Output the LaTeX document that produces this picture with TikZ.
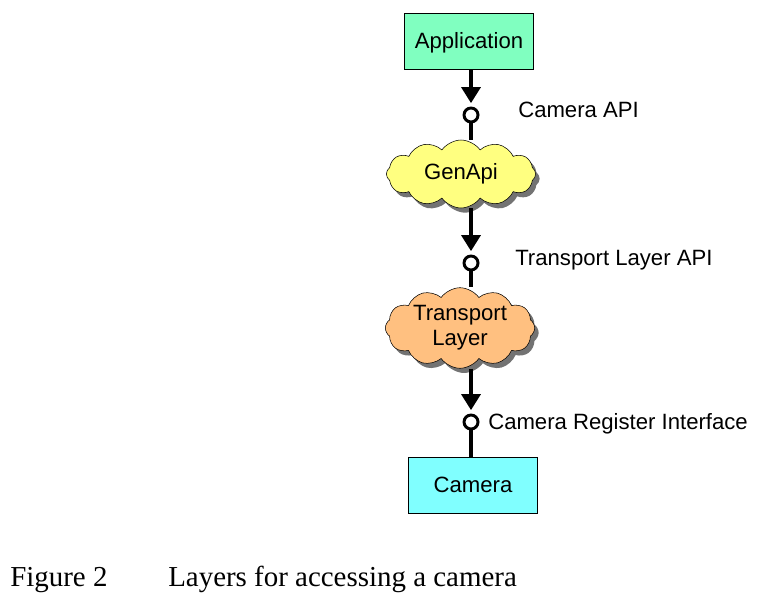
\documentclass[tikz,border=0pt]{standalone}
\usepackage{fontspec}
\setmainfont{Liberation Sans}
\newfontfamily\captionserif{Liberation Serif}
\usetikzlibrary{shapes.symbols,shadows,arrows.meta,positioning}
\definecolor{appgreen}{HTML}{80FFC0}
\definecolor{camcyan}{HTML}{80FFFF}
\definecolor{apiyellow}{HTML}{FFFF80}
\definecolor{tlorange}{HTML}{FFC080}
\tikzset{
  layerbox/.style={draw,thin,minimum width=97pt,minimum height=42pt,font=\fontsize{16.6}{19}\selectfont},
  layercloud/.style={cloud,cloud puffs=12,cloud puff arc=110,aspect=2.2,draw,thin,inner sep=0pt,
    minimum width=112pt,minimum height=51pt,align=center,font=\fontsize{16.6}{19}\selectfont,
    drop shadow={shadow xshift=3pt,shadow yshift=-3.5pt,fill=black!55,opacity=1}},
  iface/.style={circle,draw,line width=2.2pt,fill=white,minimum size=10.5pt,inner sep=0pt},
  link/.style={line width=3pt},
  linkarrow/.style={link,-{Triangle[length=12pt,width=14pt]},shorten >=2.5pt},
  ifacelabel/.style={font=\fontsize{16.6}{19}\selectfont,anchor=west,inner sep=0pt}
}
\begin{document}
\begin{tikzpicture}[x=0.75pt,y=-0.75pt]
\useasboundingbox (0,0) rectangle (760,595);
% layers
\node(app) at (469,41)[layerbox,fill=appgreen,text depth=0pt,text height=12pt] {Application};
\node(genapi) at (461,174)[layercloud,fill=apiyellow] {GenApi};
\node(tl) at (460,328)[layercloud,fill=tlorange,minimum height=55pt] {Transport\\Layer};
\node(cam) at (473,485)[layerbox,fill=camcyan] {Camera};
% interfaces
\node(ifapi) at (471,115)[iface] {};
\node(iftl) at (471,263)[iface] {};
\node(ifreg) at (471,422)[iface] {};
\node at (518,110)[ifacelabel] {Camera API};
\node at (515,260)[ifacelabel] {Transport Layer API};
\node at (488,424)[ifacelabel] {Camera Register Interface};
% connectors
\draw[linkarrow] (ifapi |- app.south) -- (ifapi);
\draw[link] (ifapi) -- (ifapi |- genapi.north);
\draw[linkarrow] (iftl |- genapi.south) -- (iftl);
\draw[link] (iftl) -- (iftl |- tl.north);
\draw[linkarrow] (ifreg |- tl.south) -- (ifreg);
\draw[link] (ifreg) -- (ifreg |- cam.north);
% caption
\node at (10,586)[anchor=base west,inner sep=0pt,font=\captionserif\fontsize{21.7}{26}\selectfont] {Figure 2};
\node at (168,586)[anchor=base west,inner sep=0pt,font=\captionserif\fontsize{21.7}{26}\selectfont] {Layers for accessing a camera};
\end{tikzpicture}
\end{document}
